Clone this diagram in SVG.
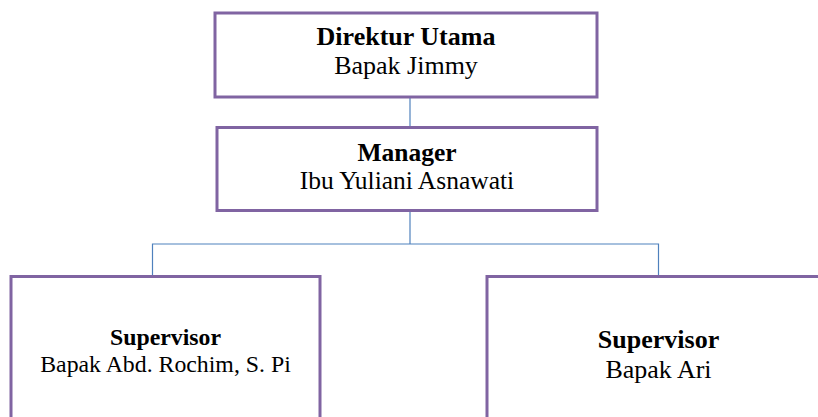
<svg xmlns="http://www.w3.org/2000/svg" width="818" height="417" viewBox="0 0 818 417">
<style>
.box{fill:#ffffff;stroke:#8064a2;stroke-width:3}
.conn{fill:none;stroke:#4f81bd;stroke-width:1.2}
text{font-family:"Liberation Serif","Times New Roman",serif;fill:#000;text-anchor:middle}
.b{font-weight:bold}
</style>
<rect width="818" height="417" fill="#ffffff"/>
<g id="connectors">
<line class="conn" x1="410" y1="97" x2="410" y2="127"/>
<line class="conn" x1="410" y1="211" x2="410" y2="244"/>
<polyline class="conn" points="152.5,275 152.5,244 658.5,244 658.5,275"/>
</g>
<g id="direktur">
<rect class="box" x="215" y="13" width="382" height="84"/>
<text class="b" x="406" y="45" font-size="26">Direktur Utama</text>
<text x="406" y="74" font-size="26">Bapak Jimmy</text>
</g>
<g id="manager">
<rect class="box" x="217" y="127.5" width="380" height="83"/>
<text class="b" x="407" y="161" font-size="25.5">Manager</text>
<text x="407" y="189" font-size="25.5">Ibu Yuliani Asnawati</text>
</g>
<g id="supervisor1">
<rect class="box" x="11" y="276.5" width="309" height="160"/>
<text class="b" x="165.5" y="345" font-size="23.8">Supervisor</text>
<text x="165.5" y="371.5" font-size="23.8">Bapak Abd. Rochim, S. Pi</text>
</g>
<g id="supervisor2">
<rect class="box" x="487" y="276.5" width="345" height="160"/>
<text class="b" x="658.5" y="348" font-size="26">Supervisor</text>
<text x="658.5" y="378" font-size="26">Bapak Ari</text>
</g>
</svg>
